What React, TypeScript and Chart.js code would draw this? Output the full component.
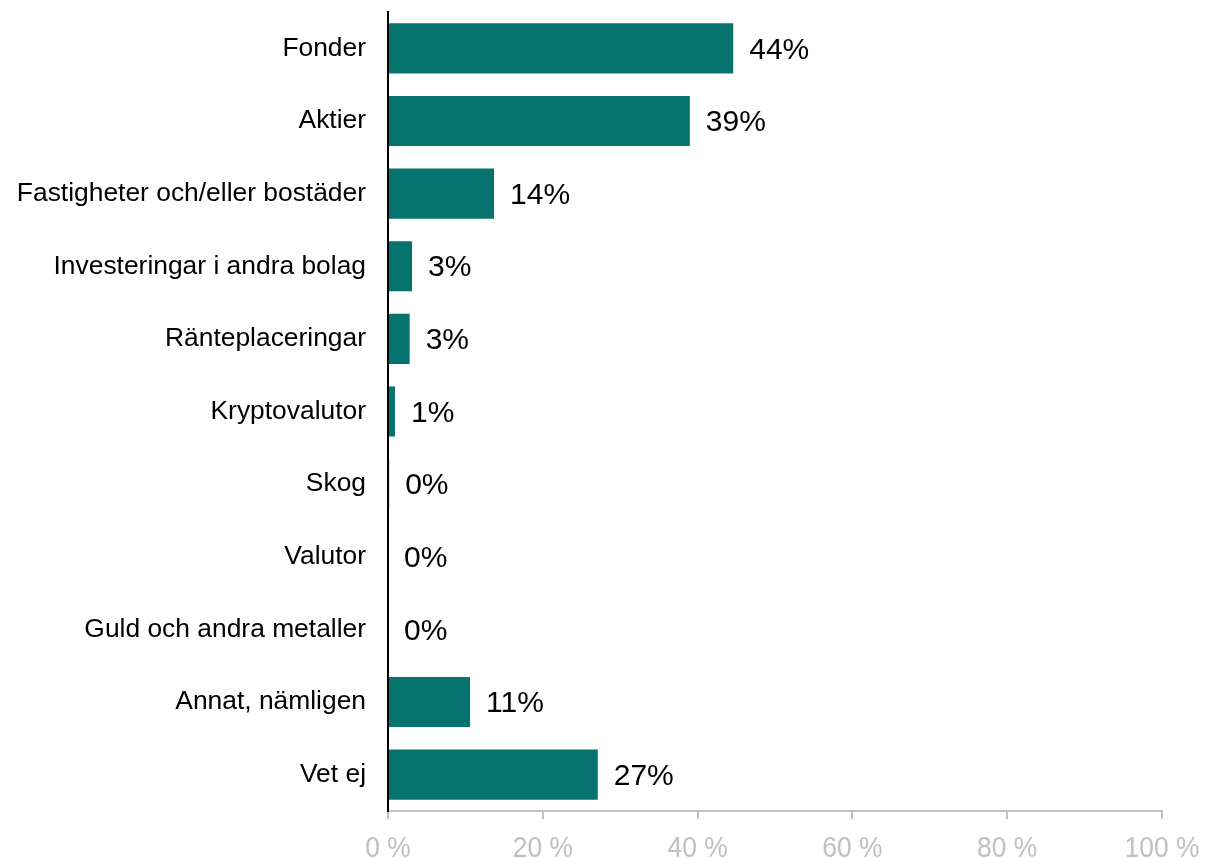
import React, { useEffect, useRef } from "react";
import { Chart, registerables } from "chart.js";

Chart.register(...registerables);

const categories = [
  "Fonder",
  "Aktier",
  "Fastigheter och/eller bostäder",
  "Investeringar i andra bolag",
  "Ränteplaceringar",
  "Kryptovalutor",
  "Skog",
  "Valutor",
  "Guld och andra metaller",
  "Annat, nämligen",
  "Vet ej",
];
const values = [44.6, 39.0, 13.7, 3.1, 2.8, 0.9, 0.15, 0, 0, 10.6, 27.1];
const valueLabels = ["44%", "39%", "14%", "3%", "3%", "1%", "0%", "0%", "0%", "11%", "27%"];
const xTicks = [0, 20, 40, 60, 80, 100];
const xTickLabels = ["0 %", "20 %", "40 %", "60 %", "80 %", "100 %"];

const barColor = "#07736F";

const labelPlugin = {
  id: "valueLabels",
  afterDatasetsDraw(chart: any) {
    const ctx = chart.ctx;
    const meta = chart.getDatasetMeta(0);
    ctx.save();
    ctx.font = "30px 'Liberation Sans', Arial, sans-serif";
    ctx.fillStyle = "#000000";
    ctx.textAlign = "left";
    ctx.textBaseline = "middle";
    meta.data.forEach((bar: any, i: number) => {
      ctx.fillText(valueLabels[i], bar.x + 16, bar.y + 2);
    });
    ctx.restore();
  },
  afterDraw(chart: any) {
    const ctx = chart.ctx;
    const xs = chart.scales.x;
    ctx.save();
    ctx.font = "29px 'Liberation Sans', Arial, sans-serif";
    ctx.fillStyle = "#c0c0c0";
    ctx.textAlign = "center";
    ctx.textBaseline = "alphabetic";
    const sx = 0.91;
    xTicks.forEach((v, i) => {
      const px = xs.getPixelForValue(v);
      ctx.save();
      ctx.translate(px, xs.top + 46);
      ctx.scale(sx, 1);
      ctx.fillText(xTickLabels[i], 0, 0);
      ctx.restore();
    });
    ctx.restore();
  },
};

export default function App() {
  const ref = useRef<HTMLCanvasElement | null>(null);
  useEffect(() => {
    document.body.style.margin = "0";
    const chart = new Chart(ref.current!, {
      type: "bar",
      data: {
        labels: categories,
        datasets: [
          {
            data: values,
            backgroundColor: barColor,
            borderWidth: 0,
            categoryPercentage: 1,
            barPercentage: 0.69,
          },
        ],
      },
      options: {
        indexAxis: "y",
        animation: false,
        responsive: false,
        maintainAspectRatio: false,
        layout: { padding: { left: 0, right: 44, top: 12, bottom: 0 } },
        plugins: { legend: { display: false }, tooltip: { enabled: false } },
        scales: {
          x: {
            min: 0,
            max: 100,
            afterBuildTicks: (s: any) => {
              s.ticks = xTicks.map((v) => ({ value: v }));
            },
            afterFit: (s: any) => {
              s.height = 47;
              s.paddingLeft = 0;
              s.paddingRight = 0;
            },
            grid: {
              display: true,
              drawOnChartArea: false,
              drawTicks: true,
              tickLength: 8,
              color: "#c0c0c0",
              lineWidth: 2,
            },
            border: { display: true, color: "#c0c0c0", width: 2 },
            ticks: {
              display: false,
              autoSkip: false,
            },
          },
          y: {
            afterFit: (s: any) => {
              s.width = 388;
              s.paddingTop = 0;
              s.paddingBottom = 0;
            },
            grid: { display: false, drawTicks: false },
            border: { display: true, color: "#000000", width: 2, z: 1 },
            ticks: {
              padding: 22,
              color: "#000000",
              font: { family: "'Liberation Sans', Arial, sans-serif", size: 26.4 },
              autoSkip: false,
            },
          },
        },
      },
      plugins: [labelPlugin],
    });
    return () => chart.destroy();
  }, []);
  return (
    <div style={{ width: 1206, height: 858 }}>
      <canvas ref={ref} width={1206} height={858} style={{ display: "block" }} />
    </div>
  );
}
